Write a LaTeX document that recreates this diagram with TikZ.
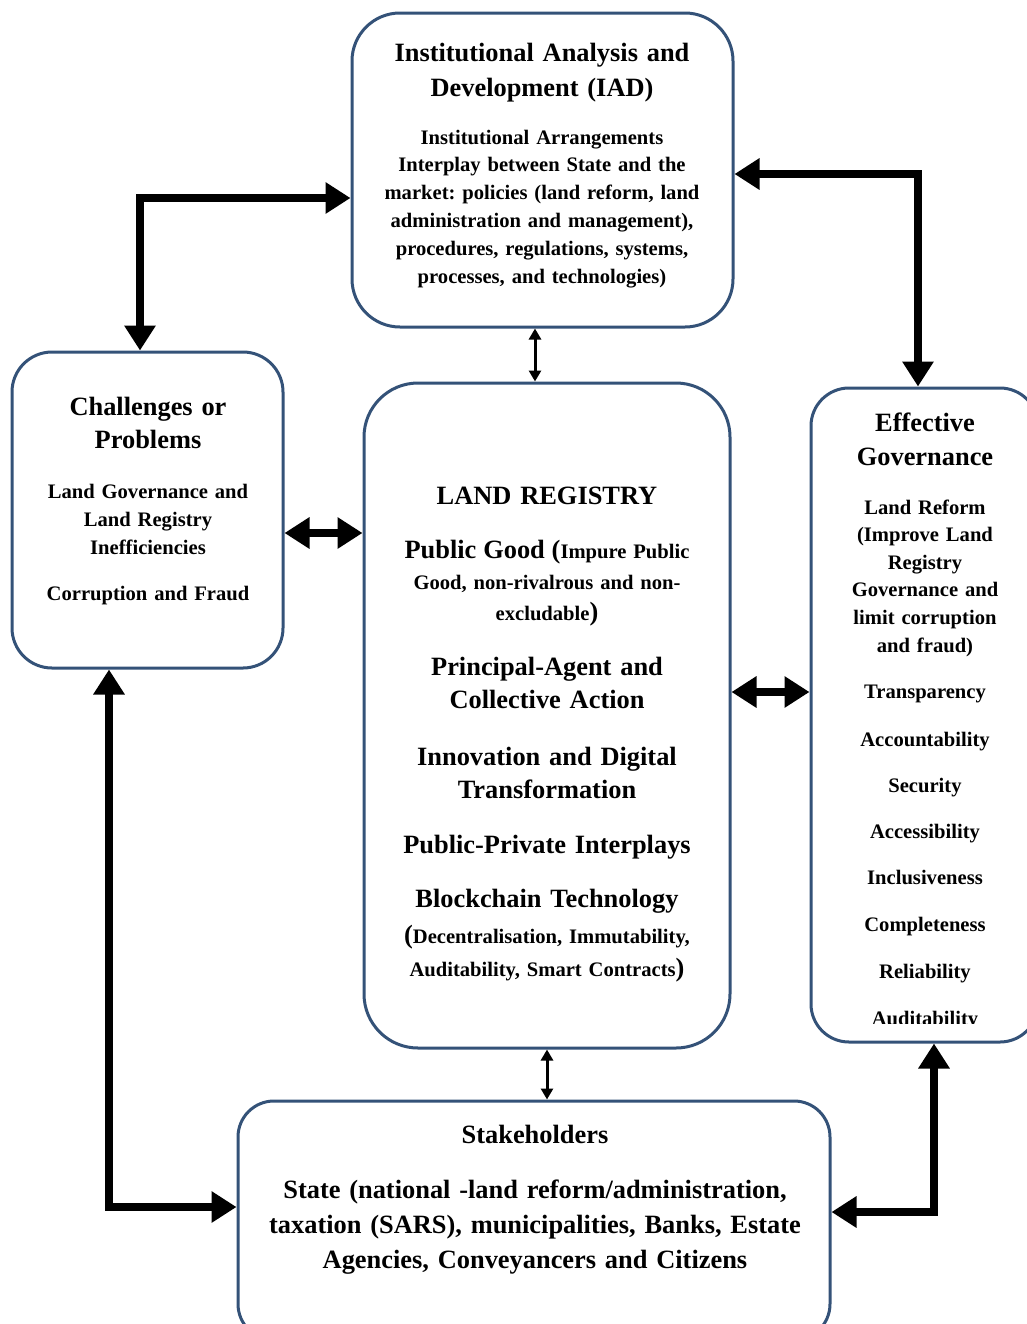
\documentclass[tikz,border=0pt]{standalone}
\usepackage{fontspec}
\setmainfont{Liberation Serif}
\usetikzlibrary{arrows.meta}
\definecolor{boxblue}{RGB}{52,82,120}
\newcommand{\bigsz}{\fontsize{13.2}{17.5}\selectfont}
\frenchspacing
\begin{document}
\begin{tikzpicture}[x=0.5pt,y=-0.5pt,
  panel/.style={draw=boxblue, line width=1.5pt, rounded corners=20pt, fill=white, inner sep=0pt},
  head/.style={anchor=base, inner sep=0pt, align=center, text width=185pt,
    font=\bfseries\fontsize{13.2}{17.5}\selectfont},
  body/.style={anchor=base, inner sep=0pt, align=center, text width=185pt,
    font=\bfseries\fontsize{10.3}{13.9}\selectfont},
  bigarrow/.style={line width=4pt, line join=miter, >={Triangle[length=12.5pt,width=15pt]}, <->},
  thinarrow/.style={line width=1.5pt, >={Triangle[length=5.5pt,width=6pt]}, <->}]
\useasboundingbox (0,0) rectangle (1027,1324);

% panels
\node[panel, minimum width=190.5pt, minimum height=157pt, rounded corners=24pt] (iad) at (542.5,170) {};
\node[panel, minimum width=135.5pt, minimum height=158pt] (chal) at (147.5,510) {};
\node[panel, minimum width=183pt, minimum height=332.5pt, rounded corners=27pt] (lr) at (547,715.5) {};
\node[panel, minimum width=113.5pt, minimum height=327pt, rounded corners=19pt] (eff) at (924.5,715) {};
\node[panel, minimum width=296pt, minimum height=119.5pt, rounded corners=18pt] (stk) at (534,1220.5) {};

% IAD
\node[head] (iadTitle) at (542,61) {Institutional Analysis and\\ Development (IAD)};
\node[body] (iadBody) at (542,144) {Institutional Arrangements\\ Interplay between State and the\\ market: policies (land reform, land\\ administration and management),\\ procedures, regulations, systems,\\ processes, and technologies)};

% challenges
\node[head, text width=130pt, font=\bfseries\fontsize{13.2}{16.5}\selectfont] (chalTitle) at (148,415) {Challenges or\\ Problems};
\node[body, text width=130pt, font=\bfseries\fontsize{10.3}{14}\selectfont] (chalBody) at (148,498) {Land Governance and\\ Land Registry\\ Inefficiencies};
\node[body, text width=130pt] (chalFraud) at (148,600) {Corruption and Fraud};

% land registry
\node[head] (lrHead) at (547,504) {LAND REGISTRY};
\node[body, font=\bfseries\fontsize{10.3}{15.5}\selectfont] (lrGood) at (547,558) {{\bigsz Public Good (}Impure Public\\ Good, non-rivalrous and non-\\ excludable{\bigsz)}};
\node[head, font=\bfseries\fontsize{13.2}{16.5}\selectfont] (lrAgent) at (547,675) {Principal-Agent and\\ Collective Action};
\node[head, font=\bfseries\fontsize{13.2}{16.5}\selectfont] (lrDigital) at (547,765) {Innovation and Digital\\ Transformation};
\node[head] (lrPPP) at (547,853) {Public-Private Interplays};
\node[head] (lrChain) at (547,907) {Blockchain Technology};
\node[body, font=\bfseries\fontsize{10.3}{16.5}\selectfont] (lrChainB) at (547,943) {{\bigsz(}Decentralisation, Immutability,\\ Auditability, Smart Contracts{\bigsz)}};

% effective governance
\node[head, text width=110pt, font=\bfseries\fontsize{13.2}{17}\selectfont] (effTitle) at (925,431) {Effective\\ Governance};
\node[body, text width=110pt, font=\bfseries\fontsize{10.3}{13.8}\selectfont] (effReform) at (925,514) {Land Reform\\ (Improve Land\\ Registry\\ Governance and\\ limit corruption\\ and fraud)};
\foreach \t/\y [count=\i] in {Transparency/698, Accountability/746, Security/792, Accessibility/838, Inclusiveness/884, Completeness/931, Reliability/978}
  \node[body, text width=110pt] (eff\i) at (925,\y) {\t};
\begin{scope}
  \clip (812,990) rectangle (1027,1023);
  \node[body, text width=110pt] (eff8) at (925,1025) {Auditability};
\end{scope}

% stakeholders
\node[head] (stkTitle) at (535,1143) {Stakeholders};
\node[head, text width=295pt] (stkBody) at (535,1198) {State (national -land reform/administration,\\ taxation (SARS), municipalities, Banks, Estate\\ Agencies, Conveyancers and Citizens};

% connector bends
\coordinate (bIC) at (140,198);
\coordinate (bIE) at (918,174);
\coordinate (bCS) at (109,1207);
\coordinate (bES) at (934,1212);
\coordinate (xIL) at (535,0);
\coordinate (yCL) at (0,533);
\coordinate (yLE) at (0,692);

% connectors
\draw[bigarrow] (bIC -| iad.west) -- (bIC) -- (bIC |- chal.north);
\draw[bigarrow] (bIE -| iad.east) -- (bIE) -- (bIE |- eff.north);
\draw[bigarrow] (bCS |- chal.south) -- (bCS) -- (bCS -| stk.west);
\draw[bigarrow] (bES |- eff.south) -- (bES) -- (bES -| stk.east);
\draw[bigarrow] (yCL -| chal.east) -- (yCL -| lr.west);
\draw[bigarrow] (yLE -| lr.east) -- (yLE -| eff.west);
\draw[thinarrow] (xIL |- iad.south) -- (xIL |- lr.north);
\draw[thinarrow] (lr.south) -- (lr.south |- stk.north);
\end{tikzpicture}
\end{document}
